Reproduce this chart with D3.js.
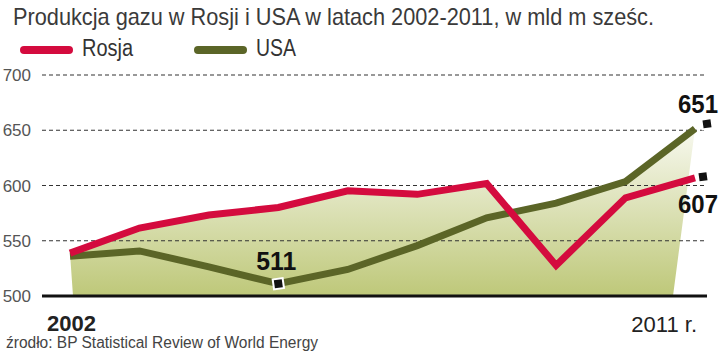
<!DOCTYPE html>
<html>
<head>
<meta charset="utf-8">
<script src="https://cdn.jsdelivr.net/npm/d3@7"></script>
<style>
  body { margin: 0; background: #fff; }
  svg { display: block; }
</style>
</head>
<body>
<div id="chart"></div>
<script>
// data: gas production, bln cubic metres
var years = [2002, 2003, 2004, 2005, 2006, 2007, 2008, 2009, 2010, 2011];
var rosja = [538.8, 561.5, 573.3, 580.1, 595.2, 592.0, 601.7, 527.7, 588.9, 607.0];
var usa   = [536.0, 540.8, 526.4, 511.1, 524.0, 545.6, 570.8, 584.0, 603.6, 651.3];
var yTicks = [500, 550, 600, 650, 700];
var xLabels = ["2002", "2011 r."];
var seriesNames = ["Rosja", "USA"];

var W = 720, H = 351;
var font = "'Liberation Sans', Arial, sans-serif";
var colRed = "#d40b3e", colGreen = "#5b6527";

var svg = d3.select("#chart").append("svg")
    .attr("width", W)
    .attr("height", H);

var x = d3.scalePoint()
    .domain(years)
    .range([70, 695]);

var y = d3.scaleLinear()
    .domain([500, 700])
    .range([296, 75]);

// squeeze text to a width, the original uses a condensed face
function squeeze(sel, w){
    sel.attr("textLength", w).attr("lengthAdjust", "spacingAndGlyphs");
}

// gradient for the area
var defs = svg.append("defs");
var grad = defs.append("linearGradient")
    .attr("id", "fillGrad")
    .attr("gradientUnits", "userSpaceOnUse")
    .attr("x1", 0).attr("x2", 0)
    .attr("y1", y(650)).attr("y2", y(500));
grad.append("stop").attr("offset", "0%").attr("stop-color", "#f7f8ee");
grad.append("stop").attr("offset", "100%").attr("stop-color", "#bec879");

// title
svg.append("text")
    .attr("x", 13)
    .attr("y", 25)
    .attr("font-family", font)
    .attr("font-size", "24px")
    .attr("fill", "#3a3a3a")
    .text("Produkcja gazu w Rosji i USA w latach 2002-2011, w mld m sześc.")
    .call(squeeze, 641);

// legend
var legend = svg.append("g");
[colRed, colGreen].forEach(function(c, i){
    var lx = 20 + i * 174;
    legend.append("line")
        .attr("x1", lx + 4).attr("x2", lx + 49)
        .attr("y1", 50).attr("y2", 50)
        .attr("stroke", c)
        .attr("stroke-width", 8)
        .attr("stroke-linecap", "round");
    legend.append("text")
        .attr("x", lx + 62)
        .attr("y", 56)
        .attr("font-family", font)
        .attr("font-size", "23px")
        .attr("fill", "#333")
        .text(seriesNames[i])
        .call(squeeze, i == 0 ? 51 : 40);
});

// area under the upper of the two lines (with crossing points)
var env = [];
for (var i = 0; i < years.length; i++) {
    env.push([x(years[i]), y(Math.max(rosja[i], usa[i]))]);
    if (i < years.length - 1) {
        var d0 = rosja[i] - usa[i], d1 = rosja[i + 1] - usa[i + 1];
        if (d0 * d1 < 0) {
            var t = d0 / (d0 - d1);
            env.push([x(years[i]) + t * (x(years[i + 1]) - x(years[i])),
                      y(rosja[i] + t * (rosja[i + 1] - rosja[i]))]);
        }
    }
}
var poly = [[x(years[0]) + 3, y(500)]].concat(env, [[x(years[years.length - 1]) - 22, y(500)]]);
svg.append("path")
    .attr("d", "M" + poly.map(function(p){ return p.join(","); }).join("L") + "Z")
    .attr("fill", "url(#fillGrad)");

// gridlines + y labels
var grid = svg.append("g");
grid.selectAll("line")
    .data(yTicks.filter(function(d){ return d > 500; }))
    .enter().append("line")
        .attr("x1", 42).attr("x2", 705)
        .attr("y1", function(d){ return y(d); })
        .attr("y2", function(d){ return y(d); })
        .attr("stroke", "#333")
        .attr("stroke-width", 1.2)
        .attr("stroke-dasharray", "4,3");

grid.selectAll("text")
    .data(yTicks)
    .enter().append("text")
        .attr("x", 31)
        .attr("y", function(d){ return y(d); })
        .attr("dy", "0.36em")
        .attr("text-anchor", "end")
        .attr("font-family", font)
        .attr("font-size", "17px")
        .attr("fill", "#555")
        .text(function(d){ return d; });

// lines
var line = d3.line()
    .x(function(d, i){ return x(years[i]); })
    .y(function(d){ return y(d); });

[[usa, colGreen], [rosja, colRed]].forEach(function(s){
    svg.append("path")
        .datum(s[0])
        .attr("d", line)
        .attr("fill", "none")
        .attr("stroke", s[1])
        .attr("stroke-width", 7)
        .attr("stroke-linejoin", "miter");
});

// baseline
svg.append("line")
    .attr("x1", 42).attr("x2", 707)
    .attr("y1", y(500)).attr("y2", y(500))
    .attr("stroke", "#111")
    .attr("stroke-width", 3);

// value markers + labels
var marks = [
    { v: usa[3], yr: years[3], dx: 0, dy: 0, lx: -2, ly: -14, anchor: "middle" },
    { v: usa[9], yr: years[9], dx: 12, dy: -5, lx: 23, ly: -16, anchor: "end" },
    { v: rosja[9], yr: years[9], dx: 8, dy: -1, lx: 23, ly: 35, anchor: "end" }
];
marks.forEach(function(m){
    var mx = x(m.yr) + m.dx, my = y(m.v) + m.dy;
    svg.append("rect")
        .attr("x", -5).attr("y", -5)
        .attr("width", 10).attr("height", 10)
        .attr("fill", "#111")
        .attr("stroke", "#fff")
        .attr("stroke-width", 2)
        .attr("transform", "translate(" + mx + "," + my + ") rotate(-8)");
    svg.append("text")
        .attr("x", x(m.yr) + m.lx)
        .attr("y", y(m.v) + m.ly)
        .attr("text-anchor", m.anchor)
        .attr("font-family", font)
        .attr("font-weight", "bold")
        .attr("font-size", "26px")
        .attr("fill", "#111")
        .text(Math.round(m.v))
        .call(squeeze, 40);
});

// x labels
svg.append("text")
    .attr("x", 47)
    .attr("y", 331)
    .attr("font-family", font)
    .attr("font-weight", "bold")
    .attr("font-size", "22px")
    .attr("fill", "#222")
    .text(xLabels[0]);

svg.append("text")
    .attr("x", 697)
    .attr("y", 332)
    .attr("text-anchor", "end")
    .attr("font-family", font)
    .attr("font-size", "22px")
    .attr("fill", "#222")
    .text(xLabels[1]);

// source
svg.append("text")
    .attr("x", 6)
    .attr("y", 348)
    .attr("font-family", font)
    .attr("font-size", "16px")
    .attr("fill", "#444")
    .text("źrodło: BP Statistical Review of World Energy")
    .call(squeeze, 312);
</script>
</body>
</html>
